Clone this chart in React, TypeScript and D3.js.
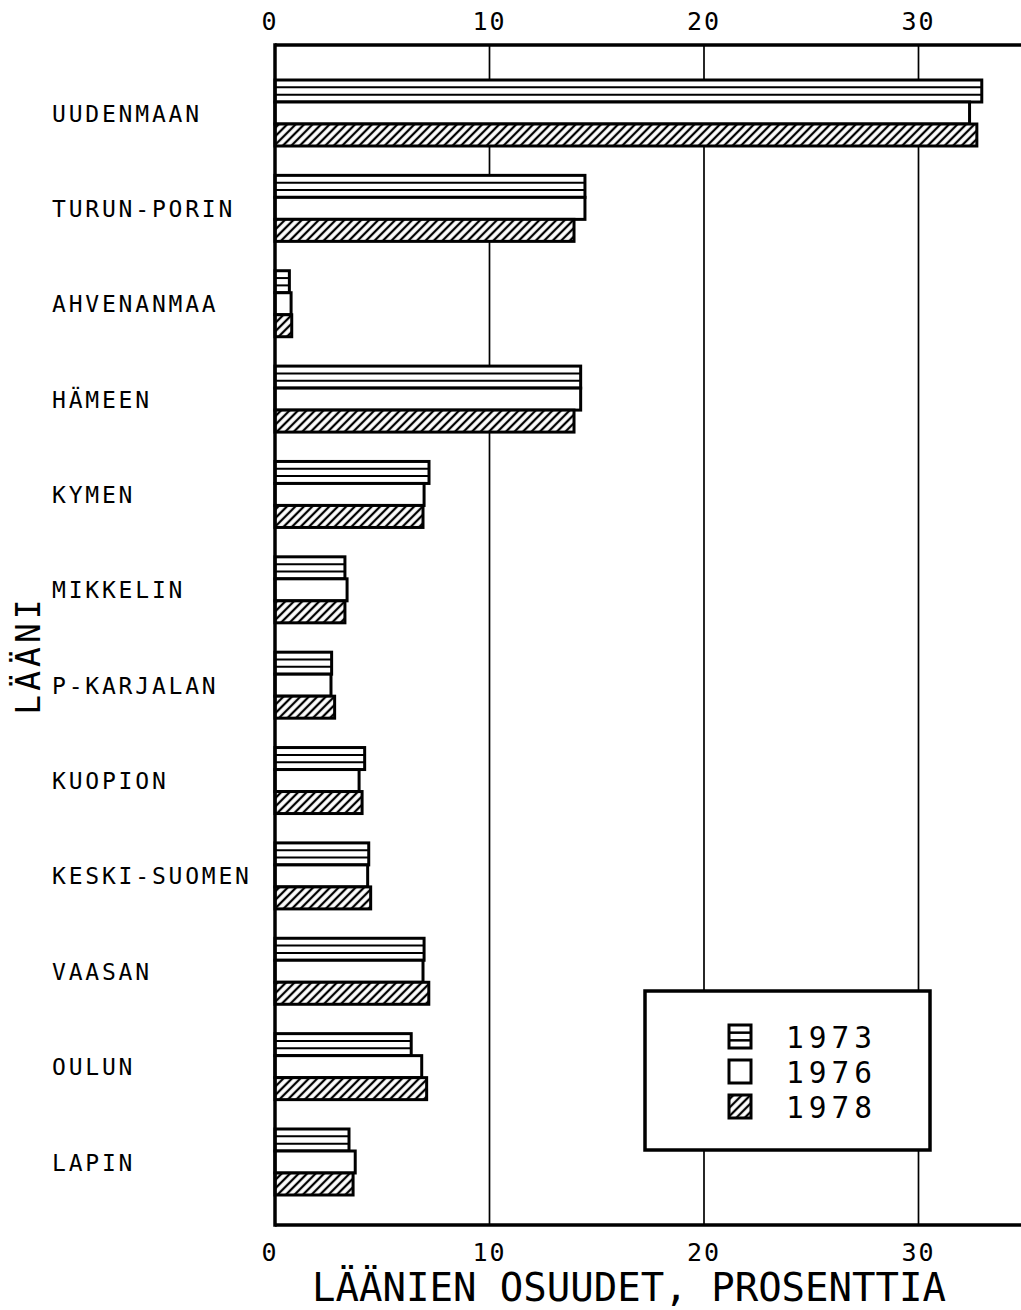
import React from "react";
import * as d3 from "d3";

const categories = [
  "UUDENMAAN",
  "TURUN-PORIN",
  "AHVENANMAA",
  "HÄMEEN",
  "KYMEN",
  "MIKKELIN",
  "P-KARJALAN",
  "KUOPION",
  "KESKI-SUOMEN",
  "VAASAN",
  "OULUN",
  "LAPIN",
];
const years = ["1973", "1976", "1978"];
const values1973 = [32.95, 14.45, 0.67, 14.25, 7.18, 3.26, 2.64, 4.18, 4.37, 6.95, 6.35, 3.45];
const values1976 = [32.38, 14.45, 0.75, 14.25, 6.95, 3.36, 2.61, 3.92, 4.32, 6.9, 6.84, 3.74];
const values1978 = [32.72, 13.94, 0.78, 13.94, 6.9, 3.26, 2.78, 4.06, 4.46, 7.17, 7.07, 3.64];
const xTicks = [0, 10, 20, 30];
const gridTicks = [10, 20, 30];
const xTitle = "LÄÄNIEN OSUUDET, PROSENTTIA";
const yTitle = "LÄÄNI";

const series = [values1973, values1976, values1978];

const W = 1021;
const H = 1310;
const FONT = "'DejaVu Sans Mono', monospace";

export default function App() {
  const x = d3.scaleLinear().domain([0, 35]).range([275, 275 + 35 * 21.45]);
  const y = d3.scalePoint<string>().domain(categories).range([113, 1162]);
  const inner = d3.scaleBand<string>().domain(years).range([-33, 33]);
  const top = 45;
  const bottom = 1225;
  const bh = inner.bandwidth();

  const legend = { x0: 645, x1: 930, y0: 991, y1: 1150 };
  const legendRow = d3.scalePoint<string>().domain(years).range([1036.5, 1106.5]);

  return (
    <svg
      width={W}
      height={H}
      viewBox={`0 0 ${W} ${H}`}
      style={{ position: "absolute", left: 0, top: 0, background: "#fff" }}
    >
      <defs>
        <pattern
          id="hatch"
          patternUnits="userSpaceOnUse"
          width={6}
          height={6}
          patternTransform="rotate(45)"
        >
          <rect x={0} y={0} width={6} height={6} fill="#fff" />
          <line x1={3} y1={-1} x2={3} y2={7} stroke="#000" strokeWidth={2.3} />
        </pattern>
      </defs>
      <rect x={0} y={0} width={W} height={H} fill="#fff" />

      {/* grid lines */}
      {gridTicks.map((t) => (
        <line key={t} x1={x(t)} x2={x(t)} y1={top} y2={bottom} stroke="#000" strokeWidth={1.7} />
      ))}

      {/* bars */}
      {categories.map((c, i) => (
        <g key={c}>
          {years.map((yr, j) => {
            const v = series[j][i];
            const y0 = (y(c) as number) + (inner(yr) as number);
            const x0 = x(0);
            const w = x(v) - x0;
            return (
              <g key={yr}>
                <rect x={x0} y={y0} width={w} height={bh} fill="#fff" />
                <rect
                  x={x0}
                  y={y0}
                  width={w}
                  height={bh}
                  fill={j === 2 ? "url(#hatch)" : "#fff"}
                  stroke="#000"
                  strokeWidth={3}
                />
                {j === 0 &&
                  [1 / 3, 2 / 3].map((f) => (
                    <line
                      key={f}
                      x1={x0}
                      x2={x0 + w}
                      y1={y0 + bh * f}
                      y2={y0 + bh * f}
                      stroke="#000"
                      strokeWidth={2}
                    />
                  ))}
              </g>
            );
          })}
        </g>
      ))}

      {/* frame */}
      <line x1={x(0)} x2={W + 10} y1={top} y2={top} stroke="#000" strokeWidth={3.5} />
      <line x1={x(0)} x2={W + 10} y1={bottom} y2={bottom} stroke="#000" strokeWidth={3.5} />
      <line x1={x(0)} x2={x(0)} y1={top - 1.7} y2={bottom + 1.7} stroke="#000" strokeWidth={3.5} />

      {/* tick labels */}
      {xTicks.map((t) => (
        <g key={t} fontFamily={FONT} fontSize={25} letterSpacing={2} textAnchor="middle">
          <text x={x(t) - (t === 0 ? 5 : 0)} y={30}>
            {t}
          </text>
          <text x={x(t) - (t === 0 ? 5 : 0)} y={1261}>
            {t}
          </text>
        </g>
      ))}

      {/* category labels */}
      {categories.map((c) => (
        <text
          key={c}
          x={52}
          y={(y(c) as number) + 8.5}
          fontFamily={FONT}
          fontSize={23}
          letterSpacing={2.8}
        >
          {c}
        </text>
      ))}

      {/* axis titles */}
      <text
        x={629}
        y={1301}
        textAnchor="middle"
        fontFamily={FONT}
        fontSize={39}
        letterSpacing={0}
      >
        {xTitle}
      </text>
      <text
        transform="translate(40,655) rotate(-90)"
        textAnchor="middle"
        fontFamily={FONT}
        fontSize={33}
        letterSpacing={4}
      >
        {yTitle}
      </text>

      {/* legend */}
      <rect
        x={legend.x0}
        y={legend.y0}
        width={legend.x1 - legend.x0}
        height={legend.y1 - legend.y0}
        fill="#fff"
        stroke="#000"
        strokeWidth={3.5}
      />
      {years.map((yr, j) => {
        const cy = legendRow(yr) as number;
        const ix = 729;
        const iw = 22;
        const ih = 23;
        const iy = cy - ih / 2;
        return (
          <g key={yr}>
            <rect
              x={ix}
              y={iy}
              width={iw}
              height={ih}
              fill={j === 2 ? "url(#hatch)" : "#fff"}
              stroke="#000"
              strokeWidth={3}
            />
            {j === 0 &&
              [1 / 3, 2 / 3].map((f) => (
                <line
                  key={f}
                  x1={ix}
                  x2={ix + iw}
                  y1={iy + ih * f}
                  y2={iy + ih * f}
                  stroke="#000"
                  strokeWidth={2.5}
                />
              ))}
            <text
              x={786}
              y={cy + 11}
              fontFamily={FONT}
              fontSize={29.5}
              letterSpacing={5}
            >
              {yr}
            </text>
          </g>
        );
      })}
    </svg>
  );
}
